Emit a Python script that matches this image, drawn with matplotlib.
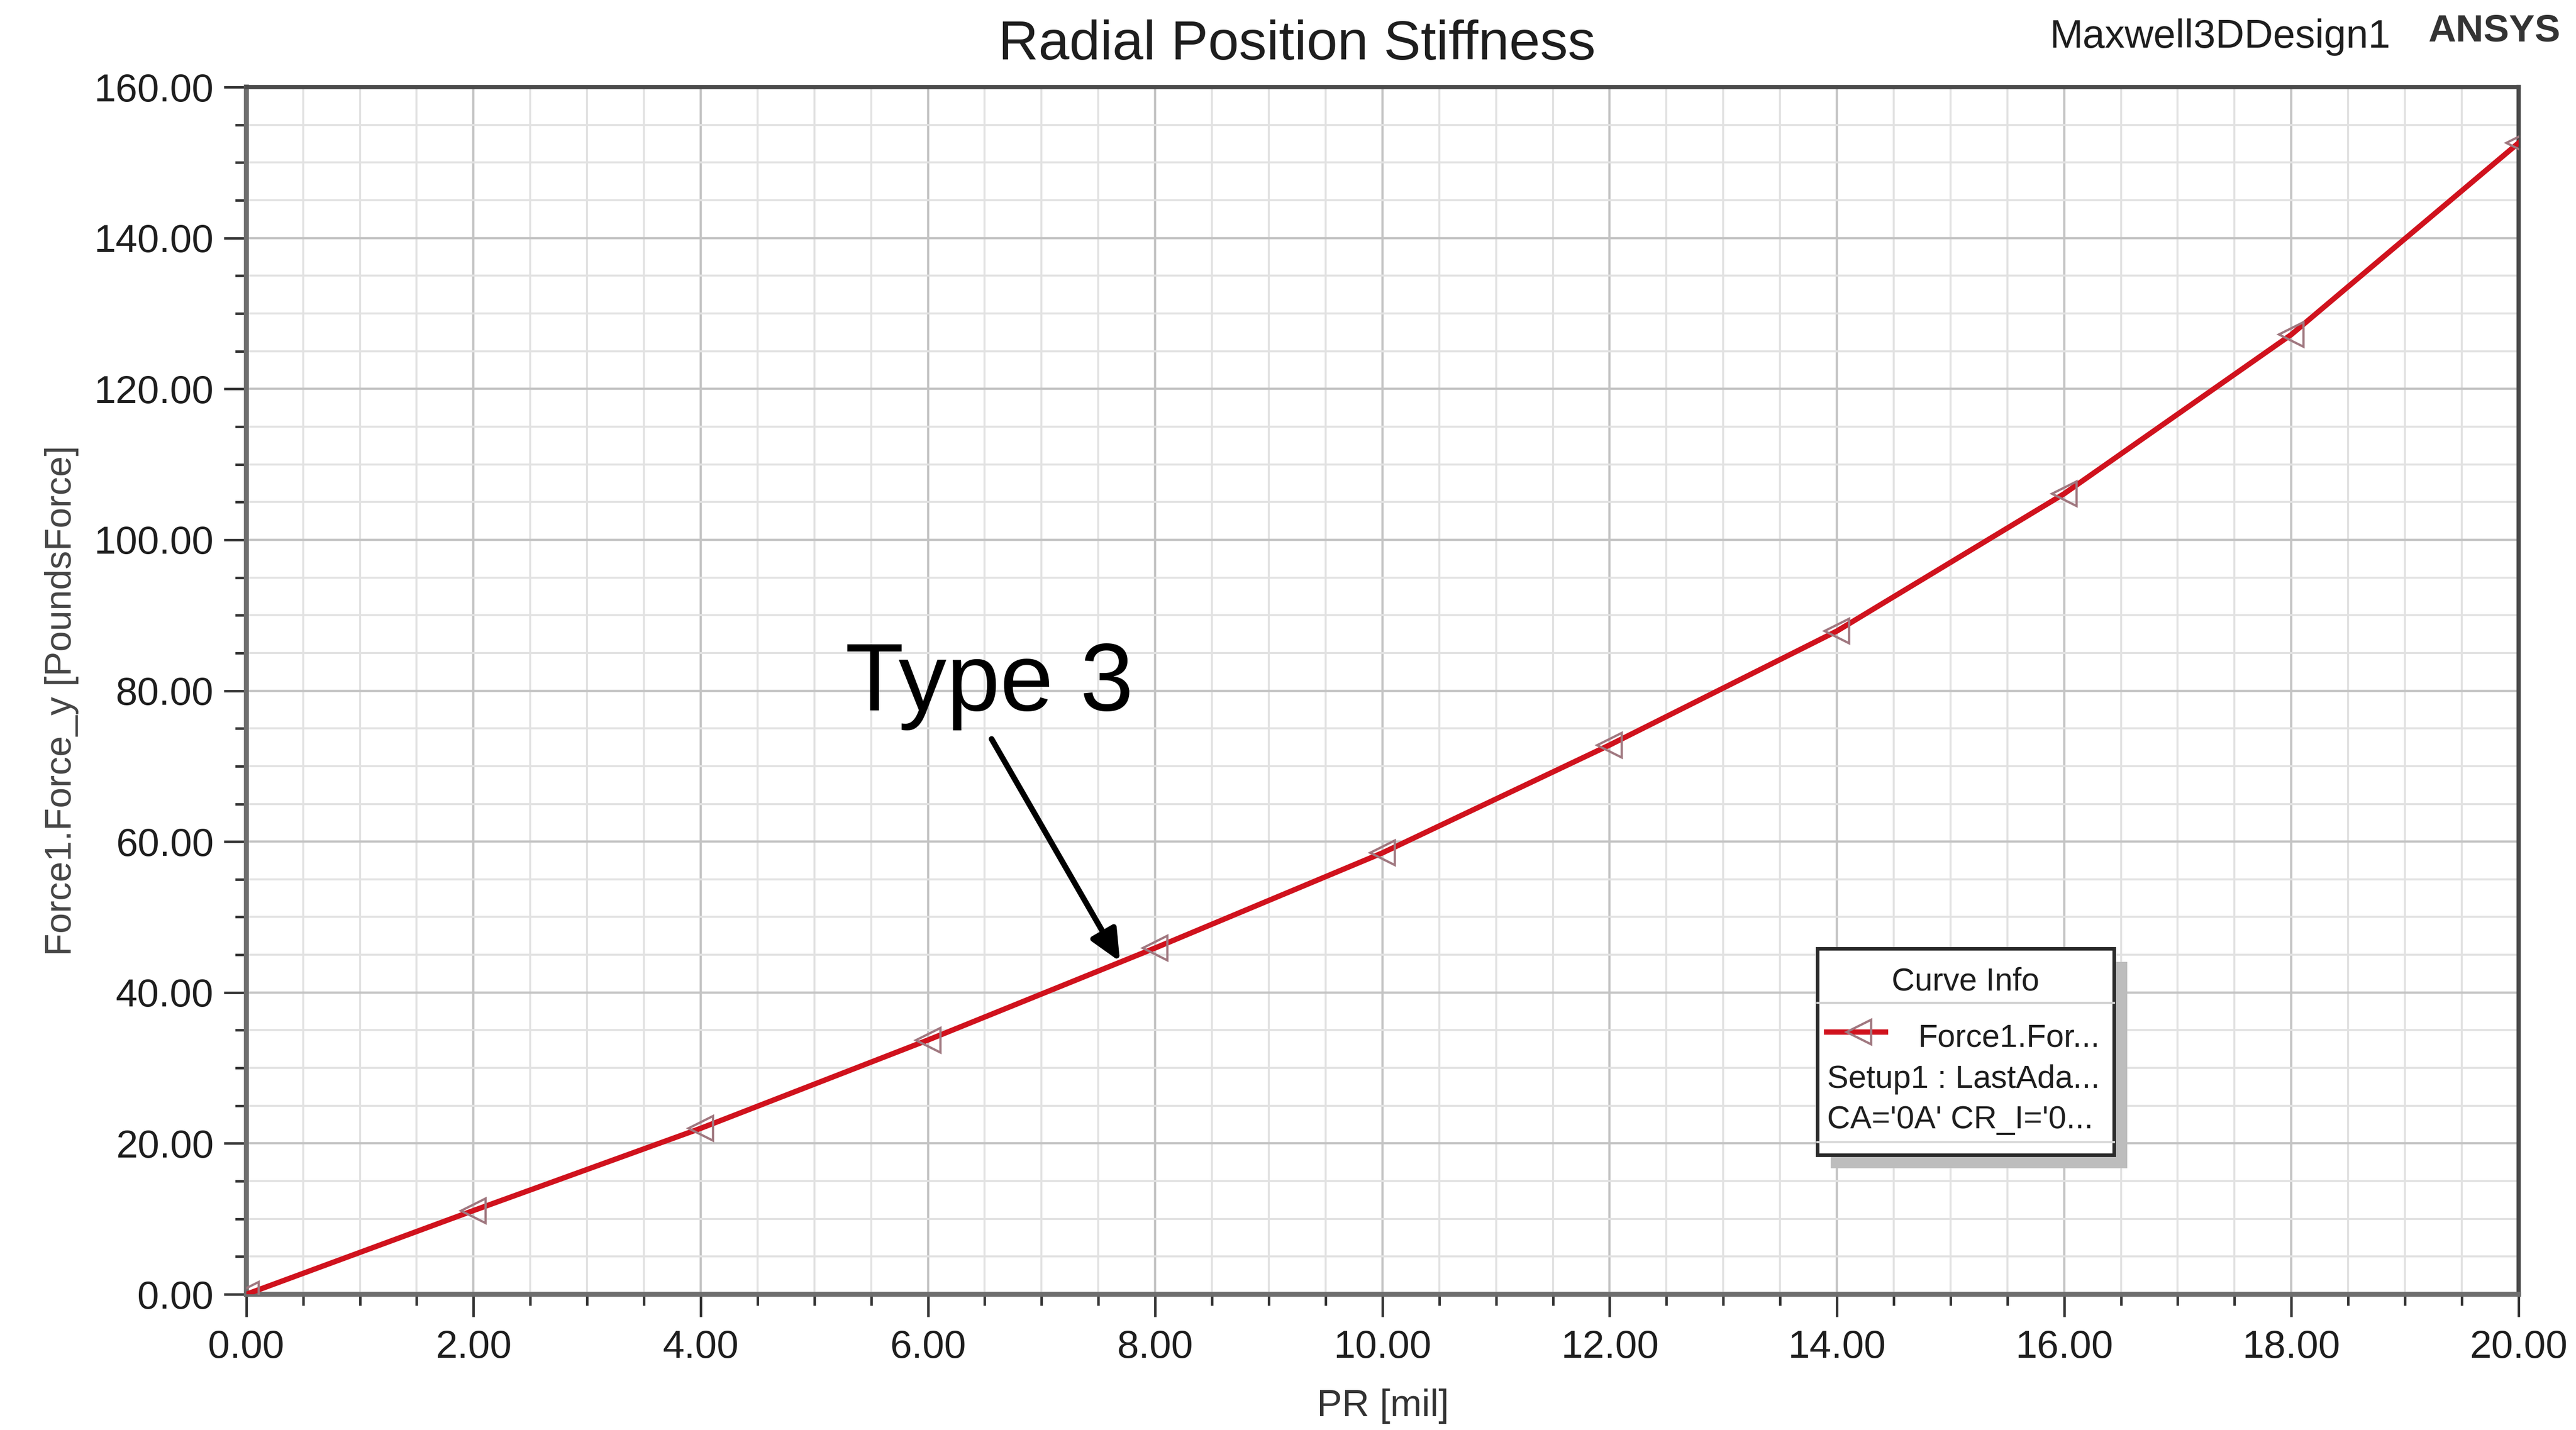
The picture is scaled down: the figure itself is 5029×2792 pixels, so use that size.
import matplotlib
matplotlib.use("Agg")
import matplotlib.pyplot as plt
from matplotlib.ticker import MultipleLocator, FormatStrFormatter
from matplotlib.patches import Rectangle, FancyArrowPatch

# data
pr_mil = [0, 2, 4, 6, 8, 10, 12, 14, 16, 18, 20]
force_y = [0.0, 11.1, 22.0, 33.7, 45.9, 58.5, 72.8, 87.9, 106.1, 127.2, 152.6]

title = "Radial Position Stiffness"
x_label = "PR [mil]"
y_label = "Force1.Force_y [PoundsForce]"
design_name = "Maxwell3DDesign1"
brand = "ANSYS"
legend_title = "Curve Info"
legend_rows = ["Force1.For...", "Setup1 : LastAda...", "CA='0A' CR_I='0..."]
note_text = "Type 3"
note_xy = (5.27, 77.4)
arrow_from = (6.56, 73.6)
arrow_to = (7.69, 44.1)

plt.rcParams["font.family"] = ["Liberation Sans", "DejaVu Sans"]

LINE_RED = "#d0121d"
MARKER_EDGE = "#a07880"
TEXT = "#1e1e1e"

fig = plt.figure(figsize=(50.29, 27.92), dpi=100)
ax = fig.add_axes([0.0956, 0.0949, 0.8821, 0.8442])

ax.plot(pr_mil, force_y, color=LINE_RED, lw=7.5, marker="<", ms=34,
        mfc="none", mec=MARKER_EDGE, mew=3.2, zorder=3)

ax.set_xlim(0, 20)
ax.set_ylim(0, 160)
ax.xaxis.set_major_locator(MultipleLocator(2))
ax.xaxis.set_minor_locator(MultipleLocator(0.5))
ax.yaxis.set_major_locator(MultipleLocator(20))
ax.yaxis.set_minor_locator(MultipleLocator(5))
ax.xaxis.set_major_formatter(FormatStrFormatter("%.2f"))
ax.yaxis.set_major_formatter(FormatStrFormatter("%.2f"))

ax.set_axisbelow(True)
ax.grid(which="major", color="#c4c4c4", lw=3.2)
ax.grid(which="minor", color="#e2e2e2", lw=2.8)

ax.tick_params(which="major", length=32, width=3.5, color="#333333",
               labelsize=55, labelcolor=TEXT, pad=14)
ax.tick_params(which="minor", length=16, width=3.5, color="#333333")
ax.tick_params(axis="x", which="major", pad=18)

for side in ["left", "bottom"]:
    ax.spines[side].set_color("#6e6e6e")
    ax.spines[side].set_linewidth(7)
for side in ["top", "right"]:
    ax.spines[side].set_color("#4a4a4a")
    ax.spines[side].set_linewidth(6)

ax.set_xlabel(x_label, fontsize=53, color="#333333", va="center")
ax.set_ylabel(y_label, fontsize=52, color="#444444")
ax.xaxis.set_label_coords(0.5002, -0.0925)
ax.yaxis.set_label_coords(-0.0737, 0.4917)

fig.text(0.5035, 0.9685, title, fontsize=78, color=TEXT, ha="center", va="center")
fig.text(0.7958, 0.974, design_name, fontsize=56, color=TEXT, ha="left", va="center")
fig.text(0.9425, 0.978, brand, fontsize=54, color="#333333", ha="left", va="center",
         fontweight="bold")

# annotation
ax.text(note_xy[0], note_xy[1], note_text, fontsize=135, color="black",
        ha="left", va="baseline", zorder=5)
arrow = FancyArrowPatch(arrow_from, arrow_to,
                        arrowstyle="-|>,head_length=0.92,head_width=0.42",
                        mutation_scale=40, lw=8, color="black",
                        shrinkA=0, shrinkB=0, zorder=5)
ax.add_patch(arrow)

# "Curve Info" box
bx0, bx1, by0, by1 = 0.6914, 0.8219, 0.1154, 0.2864
ax.add_patch(Rectangle((bx0 + 0.006, by0 - 0.011), bx1 - bx0, by1 - by0,
                       transform=ax.transAxes, facecolor="#bdbdbd",
                       edgecolor="none", zorder=6))
ax.add_patch(Rectangle((bx0, by0), bx1 - bx0, by1 - by0,
                       transform=ax.transAxes, facecolor="white",
                       edgecolor="#2a2a2a", lw=5, zorder=7))
ax.plot([bx0, bx1], [0.2414, 0.2414], transform=ax.transAxes,
        color="#cfcfcf", lw=3, zorder=8)
ax.plot([bx0, bx1], [0.1260, 0.1260], transform=ax.transAxes,
        color="#d8d8d8", lw=3, zorder=8)
ax.text(0.7565, 0.2588, legend_title, transform=ax.transAxes, fontsize=45,
        color=TEXT, ha="center", va="center", zorder=8)
ax.plot([0.6954, 0.7214], [0.2172, 0.2172], transform=ax.transAxes,
        color=LINE_RED, lw=7.5, zorder=8)
ax.plot([0.7097], [0.2172], transform=ax.transAxes, marker="<", ms=34,
        mfc="none", mec=MARKER_EDGE, mew=3.2, zorder=9)
ax.text(0.7358, 0.2121, legend_rows[0], transform=ax.transAxes, fontsize=45,
        color=TEXT, ha="left", va="center", zorder=8)
ax.text(0.6956, 0.1782, legend_rows[1], transform=ax.transAxes, fontsize=45,
        color=TEXT, ha="left", va="center", zorder=8)
ax.text(0.6956, 0.1443, legend_rows[2], transform=ax.transAxes, fontsize=45,
        color=TEXT, ha="left", va="center", zorder=8)

fig.savefig("out.png", dpi=100, facecolor="white")
